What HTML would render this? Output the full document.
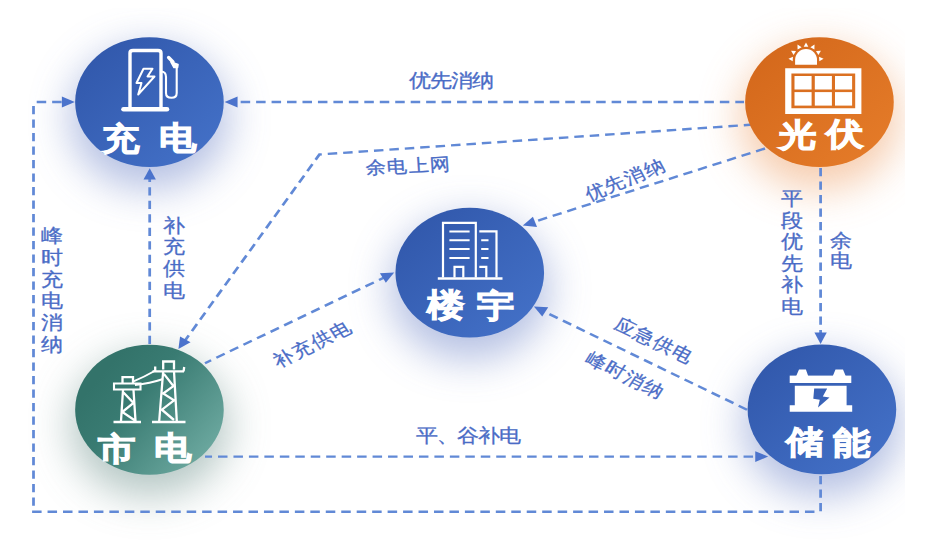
<!DOCTYPE html><html><head><meta charset="utf-8"><style>
html,body{margin:0;padding:0;background:#fff;width:939px;height:540px;overflow:hidden}
svg{display:block}
text{font-family:"Liberation Sans",sans-serif}
</style></head><body>
<svg width="939" height="540" viewBox="0 0 939 540">
<defs>
<linearGradient id="gb" x1="0" y1="0" x2="1" y2="1"><stop offset="0" stop-color="#2f55a8"/><stop offset="1" stop-color="#4573ca"/></linearGradient>
<linearGradient id="go" x1="0" y1="0" x2="1" y2="1"><stop offset="0" stop-color="#d2661a"/><stop offset="1" stop-color="#e67d2a"/></linearGradient>
<linearGradient id="gt" x1="0.2" y1="0.2" x2="1" y2="0.8"><stop offset="0" stop-color="#33736a"/><stop offset="0.3" stop-color="#397b72"/><stop offset="1" stop-color="#70aca3"/></linearGradient>
<filter id="blur" x="-50%" y="-50%" width="200%" height="200%"><feGaussianBlur stdDeviation="20"/></filter>
<clipPath id="clipg"><rect x="0" y="8" width="905" height="532"/></clipPath>
</defs>
<rect width="939" height="540" fill="#fff"/>

<g clip-path="url(#clipg)">
<ellipse cx="149.45" cy="118.05" rx="79.3" ry="70.9" fill="#a2b0dc" opacity="0.8" filter="url(#blur)"/>
<ellipse cx="819.45" cy="118.2" rx="79.3" ry="70.9" fill="#f4c09a" opacity="0.8" filter="url(#blur)"/>
<ellipse cx="469.75" cy="288.7" rx="79.3" ry="70.9" fill="#a2b0dc" opacity="0.8" filter="url(#blur)"/>
<ellipse cx="149.45" cy="425.75" rx="79.3" ry="70.9" fill="#a3b9b6" opacity="0.8" filter="url(#blur)"/>
<ellipse cx="821.9" cy="425.45" rx="79.3" ry="70.9" fill="#a2b0dc" opacity="0.8" filter="url(#blur)"/>
</g>
<g transform="scale(1.145,1)">
<path d="M649.78,102.00 L207.86,102.00" fill="none" stroke="#6189d6" stroke-width="2.4" stroke-dasharray="8.3 5.2" stroke-dashoffset="0.7"/>
<polygon points="196.16,102.00 207.46,96.60 207.46,107.40" fill="#4b73cc"/>
<path d="M716.68,476.00 L716.68,511.80" fill="none" stroke="#6189d6" stroke-width="2.4" stroke-dasharray="8.3 5.2" stroke-dashoffset="0"/>
<path d="M28.03,511.80 L713.10,511.80" fill="none" stroke="#6189d6" stroke-width="2.4" stroke-dasharray="8.3 5.2" stroke-dashoffset="0"/>
<path d="M29.26,505.80 L29.26,103.50" fill="none" stroke="#6189d6" stroke-width="2.4" stroke-dasharray="8.3 5.2" stroke-dashoffset="0"/>
<path d="M32.05,102.00 L55.90,102.00" fill="none" stroke="#6189d6" stroke-width="2.4" stroke-dasharray="8.3 5.2" stroke-dashoffset="0"/>
<polygon points="65.33,102.00 54.03,107.40 54.03,96.60" fill="#4b73cc"/>
<path d="M130.74,344.00 L130.74,176.00" fill="none" stroke="#6189d6" stroke-width="2.4" stroke-dasharray="8.3 5.2" stroke-dashoffset="0"/>
<polygon points="130.74,168.30 136.14,179.60 125.34,179.60" fill="#4b73cc"/>
<path d="M663.76,124.10 L278.95,154.50 L160.70,342.00" fill="none" stroke="#6189d6" stroke-width="2.4" stroke-dasharray="8.3 5.2" stroke-dashoffset="7.6"/>
<polygon points="155.81,349.00 157.27,336.56 166.41,342.33" fill="#4b73cc"/>
<path d="M668.12,148.50 L464.63,222.50" fill="none" stroke="#6189d6" stroke-width="2.4" stroke-dasharray="8.3 5.2" stroke-dashoffset="0"/>
<polygon points="456.59,225.60 465.42,216.71 469.05,226.88" fill="#4b73cc"/>
<path d="M179.04,363.20 L337.12,276.60" fill="none" stroke="#6189d6" stroke-width="2.4" stroke-dasharray="8.3 5.2" stroke-dashoffset="2.2"/>
<polygon points="344.28,272.60 336.97,282.77 331.77,273.30" fill="#4b73cc"/>
<path d="M652.40,409.70 L473.36,310.50" fill="none" stroke="#6189d6" stroke-width="2.4" stroke-dasharray="8.3 5.2" stroke-dashoffset="0"/>
<polygon points="466.29,306.40 478.79,307.16 473.55,316.61" fill="#4b73cc"/>
<path d="M716.68,168.00 L716.68,336.00" fill="none" stroke="#6189d6" stroke-width="2.4" stroke-dasharray="8.3 5.2" stroke-dashoffset="0"/>
<polygon points="716.68,343.90 711.28,332.60 722.08,332.60" fill="#4b73cc"/>
<path d="M179.04,456.60 L662.01,456.60" fill="none" stroke="#6189d6" stroke-width="2.4" stroke-dasharray="8.3 5.2" stroke-dashoffset="2.15"/>
<polygon points="670.92,456.60 659.62,462.00 659.62,451.20" fill="#4b73cc"/>
</g>
<ellipse cx="149.45" cy="102.05" rx="74.3" ry="64.9" fill="url(#gb)"/>
<ellipse cx="819.45" cy="102.2" rx="74.3" ry="64.9" fill="url(#go)"/>
<ellipse cx="469.75" cy="272.7" rx="74.3" ry="64.9" fill="url(#gb)"/>
<ellipse cx="149.45" cy="409.75" rx="74.3" ry="64.9" fill="url(#gt)"/>
<ellipse cx="821.9" cy="409.45" rx="74.3" ry="64.9" fill="url(#gb)"/>
<text transform="translate(102.2,149.76) scale(1.17,1)" font-size="32" font-weight="bold" fill="#fff" stroke="#fff" stroke-width="1.0">充</text>
<text transform="translate(159.0,148.91) scale(1.17,1)" font-size="32" font-weight="bold" fill="#fff" stroke="#fff" stroke-width="1.0">电</text>
<text transform="translate(779.1,145.96) scale(1.17,1)" font-size="32" font-weight="bold" fill="#fff" stroke="#fff" stroke-width="1.0">光</text>
<text transform="translate(825.5,144.66) scale(1.17,1)" font-size="32" font-weight="bold" fill="#fff" stroke="#fff" stroke-width="1.0">伏</text>
<text transform="translate(426.5,315.76) scale(1.17,1)" font-size="32" font-weight="bold" fill="#fff" stroke="#fff" stroke-width="1.0">楼</text>
<text transform="translate(476.5,316.81) scale(1.17,1)" font-size="32" font-weight="bold" fill="#fff" stroke="#fff" stroke-width="1.0">宇</text>
<text transform="translate(98.35,460.31) scale(1.17,1)" font-size="32" font-weight="bold" fill="#fff" stroke="#fff" stroke-width="1.0">市</text>
<text transform="translate(154.2,459.31) scale(1.17,1)" font-size="32" font-weight="bold" fill="#fff" stroke="#fff" stroke-width="1.0">电</text>
<text transform="translate(785.7,453.36) scale(1.17,1)" font-size="32" font-weight="bold" fill="#fff" stroke="#fff" stroke-width="1.0">储</text>
<text transform="translate(833.3,454.06) scale(1.17,1)" font-size="32" font-weight="bold" fill="#fff" stroke="#fff" stroke-width="1.0">能</text>
<text transform="translate(409.40,87.48) scale(1.16,1)" font-size="18.5" fill="#4a6cc6" stroke="#4a6cc6" stroke-width="0.3" letter-spacing="-0.48">优先消纳</text>
<text transform="translate(415.90,441.58) scale(1.16,1)" font-size="18.5" fill="#4a6cc6" stroke="#4a6cc6" stroke-width="0.3" letter-spacing="-0.61">平、谷补电</text>
<text transform="translate(40.80,242.18) scale(1.16,1)" font-size="18.5" fill="#4a6cc6" stroke="#4a6cc6" stroke-width="0.3">峰</text>
<text transform="translate(40.80,263.88) scale(1.16,1)" font-size="18.5" fill="#4a6cc6" stroke="#4a6cc6" stroke-width="0.3">时</text>
<text transform="translate(40.80,285.58) scale(1.16,1)" font-size="18.5" fill="#4a6cc6" stroke="#4a6cc6" stroke-width="0.3">充</text>
<text transform="translate(40.80,307.28) scale(1.16,1)" font-size="18.5" fill="#4a6cc6" stroke="#4a6cc6" stroke-width="0.3">电</text>
<text transform="translate(40.80,328.98) scale(1.16,1)" font-size="18.5" fill="#4a6cc6" stroke="#4a6cc6" stroke-width="0.3">消</text>
<text transform="translate(40.80,350.68) scale(1.16,1)" font-size="18.5" fill="#4a6cc6" stroke="#4a6cc6" stroke-width="0.3">纳</text>
<text transform="translate(162.80,231.68) scale(1.16,1)" font-size="18.5" fill="#4a6cc6" stroke="#4a6cc6" stroke-width="0.3">补</text>
<text transform="translate(162.80,253.48) scale(1.16,1)" font-size="18.5" fill="#4a6cc6" stroke="#4a6cc6" stroke-width="0.3">充</text>
<text transform="translate(162.80,275.28) scale(1.16,1)" font-size="18.5" fill="#4a6cc6" stroke="#4a6cc6" stroke-width="0.3">供</text>
<text transform="translate(162.80,297.08) scale(1.16,1)" font-size="18.5" fill="#4a6cc6" stroke="#4a6cc6" stroke-width="0.3">电</text>
<text transform="translate(781.10,205.38) scale(1.16,1)" font-size="18.5" fill="#4a6cc6" stroke="#4a6cc6" stroke-width="0.3">平</text>
<text transform="translate(781.10,226.88) scale(1.16,1)" font-size="18.5" fill="#4a6cc6" stroke="#4a6cc6" stroke-width="0.3">段</text>
<text transform="translate(781.10,248.38) scale(1.16,1)" font-size="18.5" fill="#4a6cc6" stroke="#4a6cc6" stroke-width="0.3">优</text>
<text transform="translate(781.10,269.88) scale(1.16,1)" font-size="18.5" fill="#4a6cc6" stroke="#4a6cc6" stroke-width="0.3">先</text>
<text transform="translate(781.10,291.38) scale(1.16,1)" font-size="18.5" fill="#4a6cc6" stroke="#4a6cc6" stroke-width="0.3">补</text>
<text transform="translate(781.10,312.88) scale(1.16,1)" font-size="18.5" fill="#4a6cc6" stroke="#4a6cc6" stroke-width="0.3">电</text>
<text transform="translate(830.40,247.48) scale(1.16,1)" font-size="18.5" fill="#4a6cc6" stroke="#4a6cc6" stroke-width="0.3">余</text>
<text transform="translate(830.40,266.88) scale(1.16,1)" font-size="18.5" fill="#4a6cc6" stroke="#4a6cc6" stroke-width="0.3">电</text>
<text transform="translate(375.53,167.54) scale(1.16,1) rotate(-3.34) translate(-8.98,6.16)" letter-spacing="1.15" font-size="17.6" fill="#4a6cc6" stroke="#4a6cc6" stroke-width="0.3">余电上网</text>
<text transform="translate(595.24,191.26) scale(1.16,1) rotate(-24.84) translate(-8.98,6.16)" letter-spacing="1.15" font-size="17.6" fill="#4a6cc6" stroke="#4a6cc6" stroke-width="0.3">优先消纳</text>
<text transform="translate(283.92,358.09) scale(1.16,1) rotate(-30.07) translate(-8.98,6.16)" letter-spacing="1.15" font-size="17.6" fill="#4a6cc6" stroke="#4a6cc6" stroke-width="0.3">补充供电</text>
<text transform="translate(625.75,327.17) scale(1.16,1) rotate(28.76) translate(-8.98,6.16)" letter-spacing="1.15" font-size="17.6" fill="#4a6cc6" stroke="#4a6cc6" stroke-width="0.3">应急供电</text>
<text transform="translate(596.56,361.36) scale(1.16,1) rotate(29.35) translate(-8.98,6.16)" letter-spacing="1.15" font-size="17.6" fill="#4a6cc6" stroke="#4a6cc6" stroke-width="0.3">峰时消纳</text>
<g fill="none" stroke="#fff" stroke-linecap="round" stroke-linejoin="round">
<!-- charger -->
<path d="M130,107 V53 Q130,50.5 133,50.5 H158 Q161,50.5 161,53 V107" stroke-width="3.4"/>
<path d="M123.5,109.2 H167" stroke-width="4.6"/>
<path d="M143.5,68.8 L152.5,68.8 L147.5,76.5 L154.5,76.5 L138.2,94.5 L141.5,83 L136.5,83 Z" stroke-width="2"/>
<path d="M161,71.5 Q166,71.5 166,77 V93 Q166,97.8 171.5,97.8 Q176.7,97.8 176.7,93 V66" stroke-width="2.1"/>
<path d="M168.6,57.5 L173,62" stroke-width="3.4"/><path d="M171,62 L178,64.5 L177.5,67.5 L174,67.5 Z" fill="#fff" stroke-width="1.6"/>
<!-- building -->
<g stroke-linecap="butt" stroke-linejoin="miter">
<path d="M443,277.5 V222.9 H475.8 V277.5 M479.3,231.4 H496.5 V277.5" stroke-width="2.2"/>
<path d="M437.8,278.5 H502.5" stroke-width="2.4"/>
<path d="M449.4,231.4 H469.6 M449.4,240.3 H469.6 M449.4,249.1 H469.6 M449.4,258 H469.6 M481.2,240.3 H488.5 M481.2,249.1 H488.5 M481.2,258 H488.5" stroke-width="2.0"/>
<path d="M454.5,277.5 V266.8 H463.3 V277.5 M479.3,266.8 H486.3 V277.5" stroke-width="2.2"/>
</g>
<!-- pylon -->
<g stroke-width="2.3" stroke-linecap="butt" stroke-linejoin="miter">
<path d="M113.5,422 H141 M152,422 H185.5" stroke-width="2.6"/>
<path d="M122.5,383 V377.2 H133 V383"/>
<path d="M114,383.5 H140.5 V389.5 H114 Z" stroke-width="2.1"/>
<path d="M121,421 L123,390 M135.5,421 L133.5,390 M123.5,392.5 L133.5,403 L122.3,412 L135,420.5"/>
<path d="M163.2,369.5 V361.5 H174 V369.5"/>
<path d="M152.5,371.3 H184 M155.2,371.3 V366.5 M183.6,371.3 L184.2,367"/>
<path d="M159.2,421 L163.2,371 M176.8,421 L174,371 M163.9,373.9 L173.4,386.1 L163.2,393.5 L174,400.3 L161.9,409.7 L174,420"/>
<path d="M133.5,381.4 Q144,377 155.5,370.5 M135,385 Q150,383.5 163,379" stroke-width="2"/>
</g>
</g>
<g fill="#fff">
<!-- solar panel -->
<path fill-rule="evenodd" d="M785.2,68.2 H861.4 V113.9 H785.2 Z M791.4,73.4 V108.2 H855.2 V73.4 Z"/>
<rect x="794.5" y="76" width="17.1" height="13.5"/><rect x="814.8" y="76" width="17.1" height="13.5"/><rect x="835" y="76" width="17.1" height="13.5"/>
<rect x="794.5" y="92.1" width="17.1" height="13.5"/><rect x="814.8" y="92.1" width="17.1" height="13.5"/><rect x="835" y="92.1" width="17.1" height="13.5"/>
<path d="M795.1,64.7 V60 A10.95,10.95 0 0 1 817,60 V64.7 Z"/>
<polygon points="806.00,42.40 808.30,46.80 803.70,46.80"/>
<polygon points="814.53,44.61 814.41,49.57 810.39,47.34"/>
<polygon points="797.47,44.61 801.61,47.34 797.59,49.57"/>
<polygon points="820.93,50.67 818.41,54.96 815.98,51.05"/>
<polygon points="791.07,50.67 796.02,51.05 793.59,54.96"/>
<polygon points="823.56,58.77 819.33,61.37 819.01,56.78"/>
<polygon points="788.44,58.77 792.99,56.78 792.67,61.37"/>
<!-- battery -->
<path d="M796.2,376 L799,369.6 H805.9 L808.2,376 Z M832.8,376 L835.5,369.6 H843 L845.7,376 Z"/>
<rect x="789.7" y="375.6" width="61.6" height="7.4"/>
<path fill-rule="evenodd" d="M794.8,385.8 H846.6 V405.3 H852.2 V411.8 H789.7 V405.3 H794.8 Z M814.2,388.6 H827.2 L822.8,396.6 L829.5,397.6 L818,407.6 L819.8,399.8 L813.3,398.8 Z"/>
</g>

</svg></body></html>
